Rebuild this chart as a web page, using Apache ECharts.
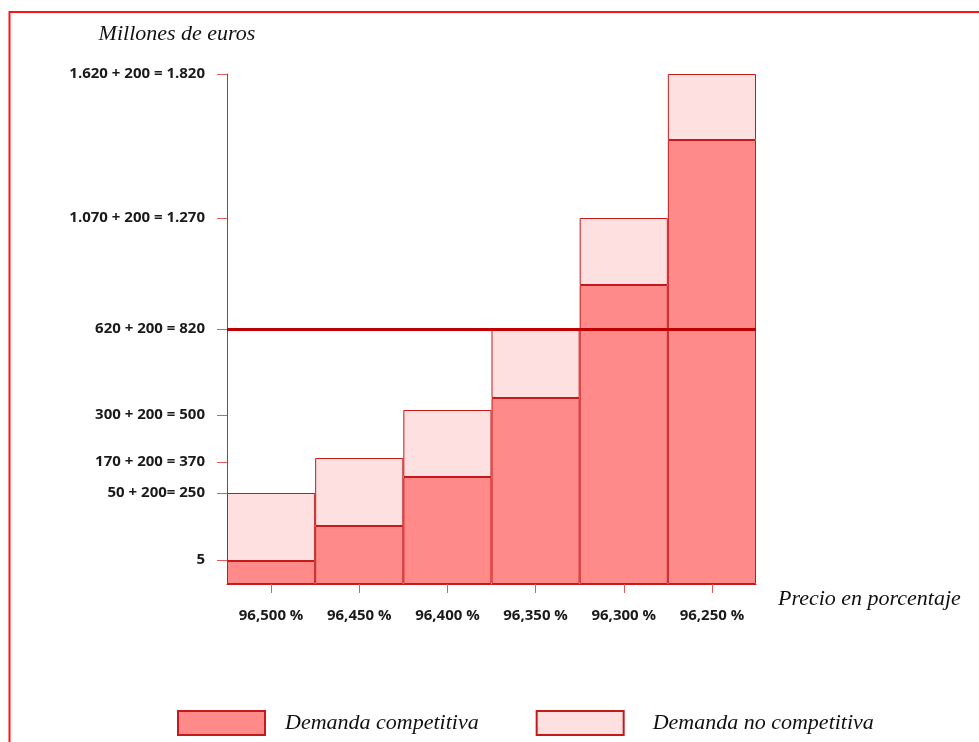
<!DOCTYPE html>
<html>
<head>
<meta charset="utf-8">
<script src="https://cdn.jsdelivr.net/npm/echarts@6/dist/echarts.min.js"></script>
<style>
html,body{margin:0;padding:0;background:#fff;}
#chart{width:979px;height:742px;}
</style>
</head>
<body>
<div id="chart"></div>
<script>
// Price categories (x axis)
const categories = ["96,500 %", "96,450 %", "96,400 %", "96,350 %", "96,300 %", "96,250 %"];
// Bar heights as drawn in the (schematic, non-linear) reference picture
const competitiveHeight = [23, 58, 107, 186, 299, 444];
const nonCompetitiveHeight = [68, 68, 67, 68, 67, 66];
// Y tick positions on the same drawing scale, and their labels
const yTickValues = [24, 91, 122, 169, 255, 366, 510];
const yTickLabels = ["5", "50 + 200= 250", "170 + 200 = 370", "300 + 200 = 500",
                     "620 + 200 = 820", "1.070 + 200 = 1.270", "1.620 + 200 = 1.820"];
// Threshold level (620 + 200 = 820)
const thresholdValue = 255;
const seriesNames = ["Demanda competitiva", "Demanda no competitiva"];

const serif = "'Liberation Serif', 'DejaVu Serif', serif";
const sans = "'Open Sans', 'Liberation Sans', sans-serif";

const chart = echarts.init(document.getElementById('chart'), null, {renderer: 'canvas'});
chart.setOption({
  animation: false,
  backgroundColor: '#ffffff',
  grid: {left: 227, right: 223, top: 74, bottom: 158},
  graphic: [{
    type: 'rect',
    shape: {x: 9.5, y: 12, width: 1000, height: 800},
    style: {fill: 'none', stroke: '#ff1414', lineWidth: 2},
    silent: true, z: 100
  }],
  legend: {
    left: 177, top: 710, padding: 0,
    itemWidth: 87, itemHeight: 24, itemGap: 57,
    icon: 'rect',
    data: [
      {name: seriesNames[0], textStyle: {padding: [4, 0, 0, 15]}},
      {name: seriesNames[1], textStyle: {padding: [8, 0, 0, 24]}}
    ],
    textStyle: {fontFamily: serif, fontStyle: 'italic', fontSize: 22, color: '#111'}
  },
  xAxis: {
    type: 'category',
    data: categories,
    boundaryGap: true,
    name: 'Precio en porcentaje',
    nameLocation: 'end',
    nameGap: 22,
    nameTextStyle: {fontFamily: serif, fontStyle: 'italic', fontSize: 22, color: '#111', verticalAlign: 'top', padding: [4, 0, 0, 0]},
    axisLine: {show: true, lineStyle: {color: '#c81e1e', width: 1}},
    axisTick: {show: true, alignWithLabel: true, length: 9, lineStyle: {color: '#e05a5a'}},
    axisLabel: {margin: 24, fontFamily: sans, fontWeight: 'bold', fontSize: 15, color: '#1a1a1a'}
  },
  yAxis: {
    type: 'value',
    min: 0, max: 510,
    name: 'Millones de euros',
    nameLocation: 'end',
    nameGap: 29,
    nameTextStyle: {fontFamily: serif, fontStyle: 'italic', fontSize: 22, color: '#111', padding: [0, 100, 0, 0]},
    axisLine: {show: true, lineStyle: {color: '#d02828', width: 1}},
    axisTick: {show: true, length: 10, customValues: yTickValues, lineStyle: {color: '#e05a5a'}},
    axisLabel: {
      show: true, margin: 22, customValues: yTickValues,
      fontFamily: sans, fontWeight: 'bold', fontSize: 15, color: '#1a1a1a',
      formatter: function (v) {
        const i = yTickValues.indexOf(v);
        return i >= 0 ? yTickLabels[i] : '';
      }
    },
    splitLine: {show: false}
  },
  series: [
    {
      name: seriesNames[0],
      type: 'bar',
      stack: 'total',
      barCategoryGap: '0%',
      data: competitiveHeight,
      itemStyle: {color: '#ff8a8a', borderColor: '#c41a1a', borderWidth: 1}
    },
    {
      name: seriesNames[1],
      type: 'bar',
      stack: 'total',
      barCategoryGap: '0%',
      data: nonCompetitiveHeight,
      itemStyle: {color: '#ffe0e1', borderColor: '#c41a1a', borderWidth: 1},
      markLine: {
        silent: true,
        symbol: 'none',
        label: {show: false},
        lineStyle: {color: '#c00000', width: 3, type: 'solid'},
        data: [{yAxis: thresholdValue}],
        z: 10
      }
    }
  ]
});
</script>
</body>
</html>
